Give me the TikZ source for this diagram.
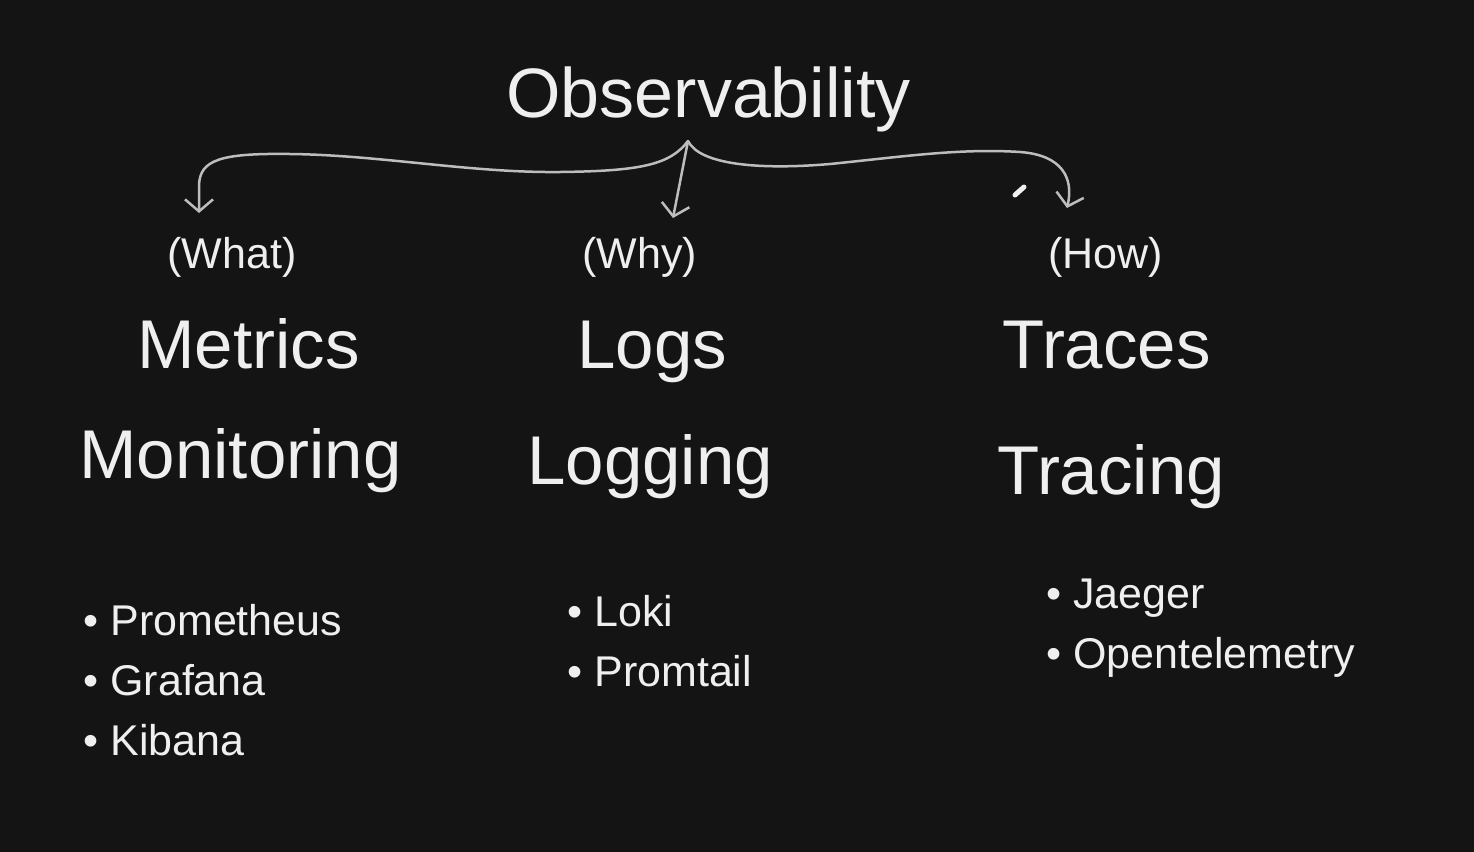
\documentclass[tikz,border=0pt]{standalone}
\usepackage{fontspec}
\setmainfont{Liberation Sans}
\usetikzlibrary{arrows.meta}
\definecolor{bg}{HTML}{141414}
\definecolor{txt}{HTML}{EFEFEF}
\definecolor{ln}{HTML}{BDBDBD}
\begin{document}
\begin{tikzpicture}[x=0.5pt,y=-0.5pt,
  lbl/.style={anchor=base west,inner sep=0pt,text=txt},
  title/.style={lbl,font=\fontsize{35pt}{40pt}\selectfont},
  why/.style={lbl,font=\fontsize{21.5pt}{25pt}\selectfont},
  big/.style={lbl,font=\fontsize{34.5pt}{40pt}\selectfont},
  item/.style={lbl,font=\fontsize{21.5pt}{25pt}\selectfont},
  conn/.style={draw=ln,line width=1.25pt,line cap=round,line join=round,
    -{Straight Barb[length=6pt,width=14pt,line width=1.25pt]}}]
\fill[bg] (0,0) rectangle (1474,852);
\useasboundingbox (0,0) rectangle (1474,852);

\node[title] (obs) at (506,117) {Observability};

\node[why] (what) at (167,268) {(What)};
\node[why] (whyl) at (582,268) {(Why)};
\node[why] (how) at (1048,268) {(How)};

\node[big] (metrics) at (137,368) {Metrics};
\node[big] (logs) at (577,368) {Logs};
\node[big] (traces) at (1002,368) {Traces};

\node[big] (monitoring) at (79,478) {Monitoring};
\node[big] (logging) at (527,484) {Logging};
\node[big] (tracing) at (997,494) {Tracing};

\node[item] (prom) at (83,635) {• Prometheus};
\node[item] (graf) at (83,695) {• Grafana};
\node[item] (kib) at (83,755) {• Kibana};

\node[item] (loki) at (567,626) {• Loki};
\node[item] (promtail) at (567,686) {• Promtail};

\node[item] (jaeger) at (1046,608) {• Jaeger};
\node[item] (otel) at (1046,668) {• Opentelemetry};

\coordinate (j) at (688,141);
\coordinate (tl) at (199,213);
\coordinate (tm) at (673,218);
\coordinate (tr) at (1067,208);

\draw[conn] (j) .. controls (670,165) and (640,171) .. (560,172)
  .. controls (470,173) and (380,155) .. (290,154)
  .. controls (220,153) and (200,160) .. (199,185) -- (tl);
\draw[conn] (j) -- (tm);
\draw[conn] (j) .. controls (700,165) and (760,170) .. (830,164)
  .. controls (900,157) and (960,148) .. (1020,152)
  .. controls (1062,155) and (1074,178) .. (tr);

\draw[txt,line width=2.5pt,line cap=round] (1015,195) -- (1024,187);
\end{tikzpicture}
\end{document}
